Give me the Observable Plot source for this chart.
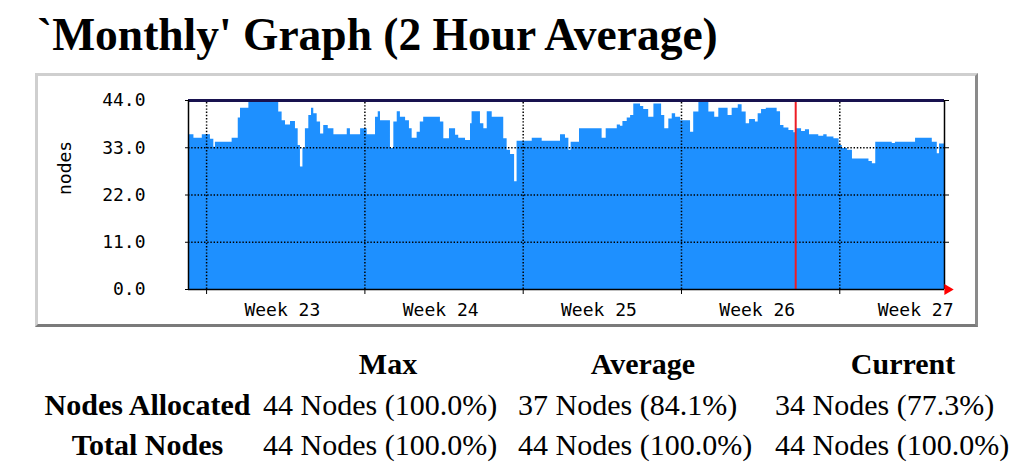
<!DOCTYPE html>
<html><head><meta charset="utf-8">
<script src="https://cdn.jsdelivr.net/npm/d3@7"></script>
<script src="https://cdn.jsdelivr.net/npm/@observablehq/plot@0.6"></script>
<style>
html,body{margin:0;padding:0;background:#fff;width:1024px;height:472px;overflow:hidden;position:relative}
#title{position:absolute;left:37px;top:12px;font:bold 45.5px/45px "Liberation Serif",serif;white-space:nowrap;color:#000}
#frame{position:absolute;left:35px;top:73px;width:937px;height:248px;border-style:solid;border-width:3px;border-color:#cfcfcf #8a8a8a #7a7a7a #cfcfcf;background:#fff}
#frame svg{display:block}
.cell{position:absolute;font:30px/30px "Liberation Serif",serif;white-space:nowrap;color:#000}
.b{font-weight:bold}
</style></head>
<body>
<div id="title">`Monthly' Graph (2 Hour Average)</div>
<div id="frame"></div>
<div id="table"></div>
<script>
// ---- data ----
const dayStart = [0.00,0.24,0.61,0.97,1.12,1.19,1.93,2.20,2.30,2.67,3.99,4.14,4.29,4.51,4.73,4.85,4.95,5.06,5.17,5.32,5.44,5.54,5.69,5.84,5.98,6.18,6.43,7.02,7.16,7.61,7.90,8.27,8.39,8.49,8.93,9.08,9.23,9.37,9.60,9.77,9.89,10.11,10.25,10.40,11.14,11.29,11.54,11.81,11.95,12.25,12.47,12.54,12.91,13.06,13.21,13.43,13.94,14.09,14.24,14.42,14.53,15.20,15.64,16.45,16.67,16.82,16.92,17.29,18.29,18.47,18.96,19.10,19.21,19.40,19.55,19.69,19.99,20.13,20.35,20.58,20.92,21.06,21.24,21.39,21.54,21.76,22.20,22.34,22.57,23.01,23.27,23.45,23.86,24.04,24.31,24.48,24.66,24.81,25.07,25.19,25.34,25.55,26.03,26.18,26.33,26.55,26.77,26.84,27.11,27.28,27.46,27.87,28.09,28.24,28.54,28.77,28.91,29.14,29.36,30.09,30.24,30.39,31.12,31.26,32.15,32.89,33.11,33.21];
const allocated = [36.0,35.2,36.0,35.0,33.1,34.3,35.2,39.9,42.2,44.0,41.3,39.3,38.3,39.1,37.4,33.5,28.5,32.8,37.4,40.5,42.2,40.9,39.0,36.2,38.2,37.4,36.0,37.4,36.0,37.4,36.0,40.1,41.4,39.3,32.8,39.0,41.4,40.1,39.3,37.4,35.2,36.6,39.0,40.1,39.0,35.1,37.4,35.9,35.2,34.7,38.6,41.4,38.6,37.4,41.4,40.1,35.1,32.4,31.4,25.1,34.5,35.2,34.5,36.0,35.2,32.4,34.3,37.4,35.2,37.4,38.3,38.0,39.1,39.9,40.5,43.2,42.6,41.9,40.1,43.2,40.5,37.4,39.7,40.9,40.1,39.3,36.6,41.3,44.0,41.3,40.1,42.2,40.5,42.2,43.0,41.3,38.6,39.6,39.0,40.9,41.9,42.2,41.4,38.2,37.6,37.0,36.5,37.4,36.8,37.2,36.0,35.7,36.0,35.5,35.1,33.5,32.8,32.4,30.4,29.8,29.3,34.3,34.0,34.3,35.2,34.3,31.6,33.9];
const endDay = 33.43;
const totalNodes = 44;
const yTicks = [0, 11, 22, 33, 44];
const weekStart = [0.8, 7.8, 14.8, 21.8, 28.8];
const weekLabels = ["Week 23", "Week 24", "Week 25", "Week 26", "Week 27"];
const weekLabelDay = [4.15, 11.15, 18.15, 25.15, 32.15];
const monthStartDay = 26.85;
const yLabel = "nodes";

const headers = ["Max", "Average", "Current"];
const rowLabels = ["Nodes Allocated", "Total Nodes"];
const allocatedStats = ["44 Nodes (100.0%)", "37 Nodes (84.1%)", "34 Nodes (77.3%)"];
const totalStats = ["44 Nodes (100.0%)", "44 Nodes (100.0%)", "44 Nodes (100.0%)"];

// ---- chart ----
const series = dayStart.map((d, i) => ({day: d, v: allocated[i]}));
series.push({day: endDay, v: allocated[allocated.length - 1]});
const mono = '"DejaVu Sans Mono", monospace';
const dots = "1.4,1.8";

const chart = Plot.plot({
  width: 937, height: 248,
  marginLeft: 150, marginRight: 31, marginTop: 24, marginBottom: 35,
  style: {fontFamily: mono, fontSize: "18px", background: "white", color: "#000", overflow: "visible"},
  x: {domain: [0, endDay], axis: null},
  y: {domain: [0, 44], axis: null},
  marks: [
    Plot.areaY(series, {x: "day", y: "v", curve: "step-after", fill: "#1e90ff"}),
    Plot.ruleY(yTicks.filter(t => t > 0 && t < 44), {stroke: "#000", strokeDasharray: dots, strokeWidth: 1.5}),
    Plot.ruleX(weekStart, {y1: 0, y2: 44, stroke: "#000", strokeDasharray: dots, strokeWidth: 1.5}),
    Plot.ruleX([monthStartDay], {y1: 0, y2: 44, stroke: "#ee1c24", strokeWidth: 2}),
    Plot.ruleY([totalNodes], {stroke: "#18124f", strokeWidth: 3}),
    Plot.axisY(yTicks, {anchor: "left", tickSize: 3, tickPadding: 40, tickFormat: d3.format(".1f"), label: null, fontSize: 18}),
    Plot.axisY(yTicks, {anchor: "right", tickSize: 4, tickFormat: () => "", label: null}),
    Plot.axisX(weekStart, {anchor: "bottom", tickSize: 5, tickFormat: () => "", label: null}),
    Plot.text(weekLabels, {x: (d, i) => weekLabelDay[i], y: 0, dy: 21, text: d => d, fontSize: 18}),
    Plot.ruleX([0, endDay], {y1: 0, y2: 44, stroke: "#000", strokeWidth: 1.5}),
    Plot.ruleY([0], {x1: 0, x2: endDay, stroke: "#000", strokeWidth: 1.5}),
    Plot.dot([endDay], {x: d => d, y: 0, symbol: "triangle", rotate: 90, fill: "#ff0000", r: 4, dx: 3}),
    Plot.text([yLabel], {frameAnchor: "left", rotate: -90, dx: -123, text: d => d, fontSize: 18})
  ]
});
document.getElementById("frame").appendChild(chart);

// ---- table ----
const table = document.getElementById("table");
const colLeft = [263, 518, 775];
const colWidth = [250, 250, 256];
const rowTop = [349, 390, 430];
function cell(text, left, top, width, align, bold) {
  const el = document.createElement("div");
  el.className = "cell" + (bold ? " b" : "");
  el.textContent = text;
  el.style.left = left + "px";
  el.style.top = top + "px";
  el.style.width = width + "px";
  el.style.textAlign = align;
  table.appendChild(el);
}
headers.forEach((h, j) => cell(h, colLeft[j], rowTop[0], colWidth[j], "center", true));
rowLabels.forEach((r, i) => cell(r, 35, rowTop[i + 1], 225, "center", true));
[allocatedStats, totalStats].forEach((row, i) => row.forEach((v, j) => cell(v, colLeft[j], rowTop[i + 1], colWidth[j], "left", false)));
</script>
</body></html>
